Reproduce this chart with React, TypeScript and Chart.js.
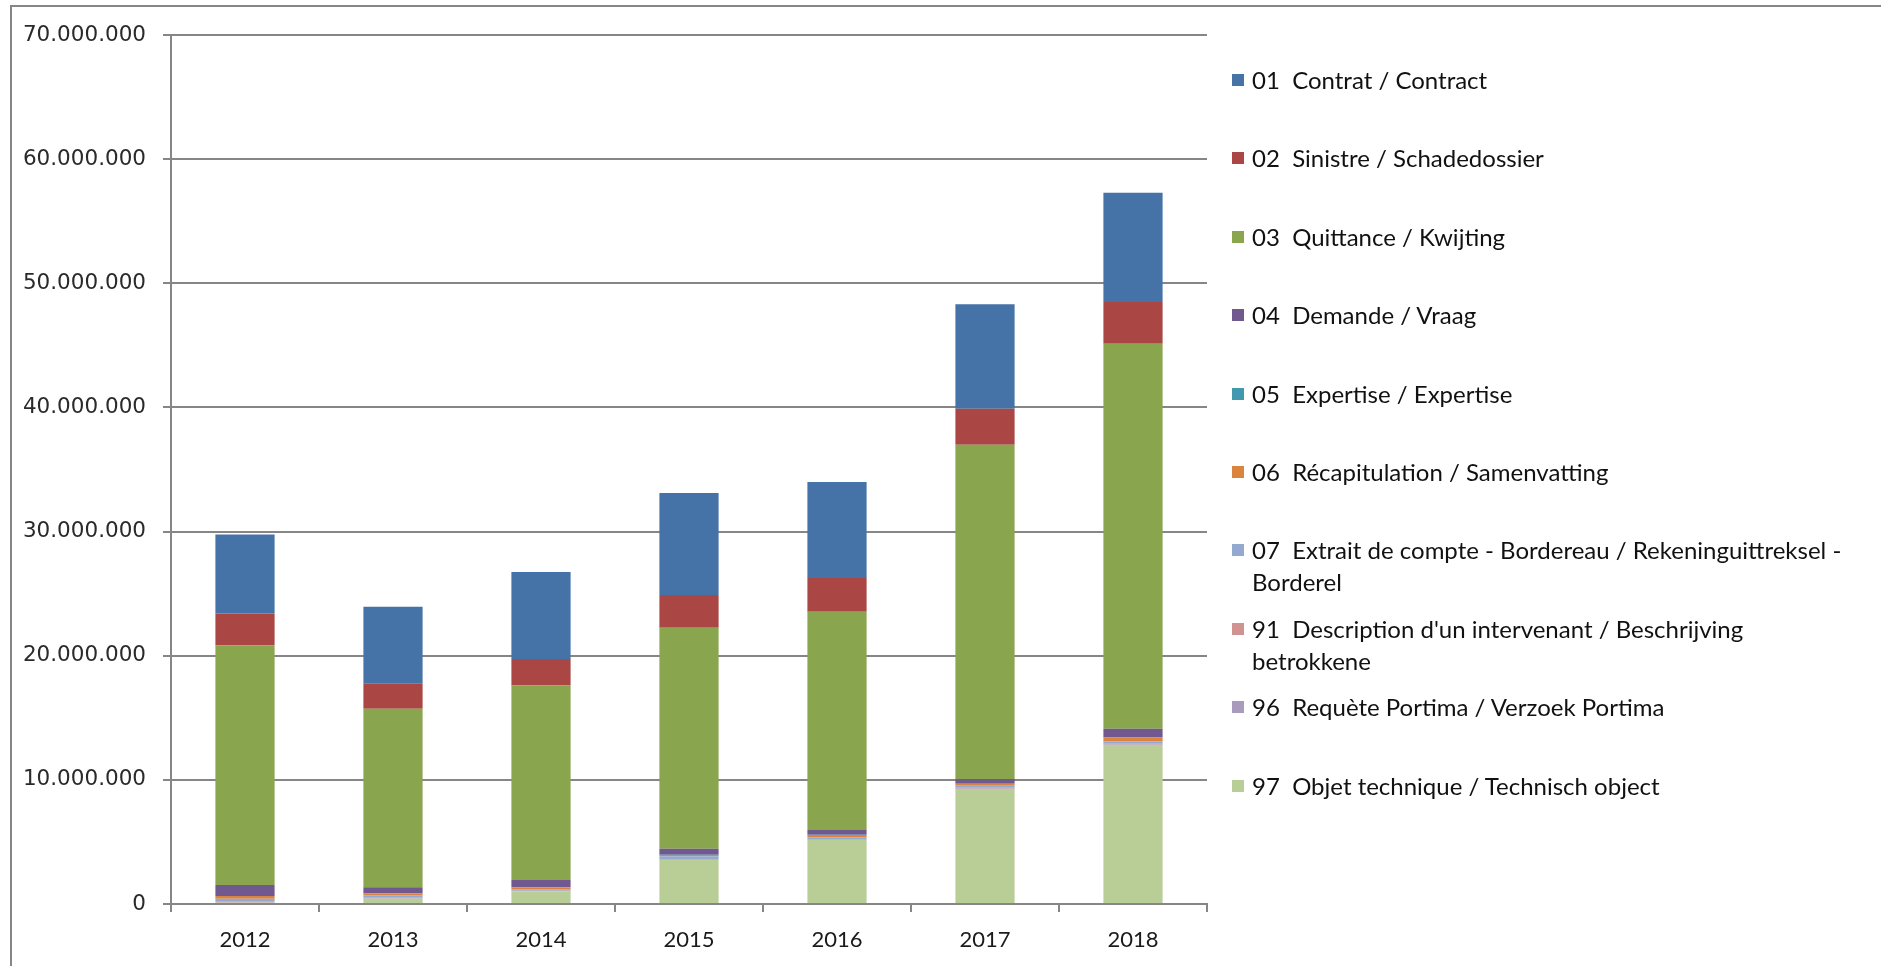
import React, { useEffect, useRef } from "react";
import { Chart, registerables } from "chart.js";

Chart.register(...registerables);

const years = ["2012", "2013", "2014", "2015", "2016", "2017", "2018"];

// values in millions
const s01Contrat = [6.36, 6.21, 7.01, 8.2, 7.74, 8.42, 8.8];
const s02Sinistre = [2.56, 2.01, 2.13, 2.64, 2.71, 2.9, 3.37];
const s03Quittance = [19.31, 14.38, 15.66, 17.8, 17.58, 26.94, 31.02];
const s04Demande = [0.89, 0.48, 0.58, 0.5, 0.4, 0.37, 0.69];
const s05Expertise = [0.01, 0.01, 0.01, 0.01, 0.01, 0.01, 0.01];
const s06Recap = [0.21, 0.16, 0.17, 0.11, 0.19, 0.16, 0.32];
const s07Extrait = [0.25, 0.2, 0.12, 0.21, 0.14, 0.16, 0.19];
const s91Description = [0.05, 0.04, 0.03, 0.04, 0.04, 0.05, 0.05];
const s96Requete = [0.03, 0.03, 0.03, 0.04, 0.03, 0.04, 0.05];
const s97Objet = [0.1, 0.43, 1.0, 3.55, 5.16, 9.27, 12.8];

const yTicks = [0, 10000000, 20000000, 30000000, 40000000, 50000000, 60000000, 70000000];

const legendLabels = [
  "01  Contrat / Contract",
  "02  Sinistre / Schadedossier",
  "03  Quittance / Kwijting",
  "04  Demande / Vraag",
  "05  Expertise / Expertise",
  "06  Récapitulation / Samenvatting",
  "07  Extrait de compte - Bordereau / Rekeninguittreksel -\nBorderel",
  "91  Description d'un intervenant / Beschrijving\nbetrokkene",
  "96  Requète Portima / Verzoek Portima",
  "97  Objet technique / Technisch object",
];

const legendColors = [
  "#4572A7",
  "#AA4643",
  "#89A54E",
  "#71588F",
  "#4198AF",
  "#DB843D",
  "#93A9CF",
  "#D19392",
  "#A99BBD",
  "#B9CD96",
];

// stacking order bottom -> top
const stackSeries = [
  { label: legendLabels[9], data: s97Objet, color: legendColors[9] },
  { label: legendLabels[8], data: s96Requete, color: legendColors[8] },
  { label: legendLabels[7], data: s91Description, color: legendColors[7] },
  { label: legendLabels[6], data: s07Extrait, color: legendColors[6] },
  { label: legendLabels[5], data: s06Recap, color: legendColors[5] },
  { label: legendLabels[4], data: s05Expertise, color: legendColors[4] },
  { label: legendLabels[3], data: s04Demande, color: legendColors[3] },
  { label: legendLabels[2], data: s03Quittance, color: legendColors[2] },
  { label: legendLabels[1], data: s02Sinistre, color: legendColors[1] },
  { label: legendLabels[0], data: s01Contrat, color: legendColors[0] },
];

const fmt = (v: number) => String(Math.round(v)).replace(/\B(?=(\d{3})+(?!\d))/g, ".");

const W = 1881;
const H = 966;
const AXIS_COLOR = "#868686";

export default function App() {
  const ref = useRef<HTMLCanvasElement | null>(null);

  useEffect(() => {
    document.body.style.margin = "0";
    const ctx = ref.current!.getContext("2d")!;
    const chart = new Chart(ctx, {
      type: "bar",
      data: {
        labels: years,
        datasets: stackSeries.map((s) => ({
          label: s.label,
          data: s.data.map((v) => v * 1000000),
          backgroundColor: s.color,
          borderWidth: 0,
          categoryPercentage: 1,
          barPercentage: 0.4,
        })),
      },
      options: {
        responsive: false,
        animation: false,
        layout: { padding: { left: 0, right: W - 1207, top: 35, bottom: 0 } },
        plugins: { legend: { display: false }, tooltip: { enabled: false } },
        scales: {
          x: {
            stacked: true,
            afterFit: (s: any) => {
              s.height = H - 904;
            },
            grid: {
              display: true,
              offset: true,
              drawOnChartArea: false,
              drawTicks: true,
              tickLength: 8,
              color: AXIS_COLOR,
              lineWidth: 2,
            },
            border: { display: true, color: AXIS_COLOR, width: 2 },
            ticks: {
              padding: 15,
              color: "#1a1a1a",
              font: { family: "Lato", size: 22 },
            },
          },
          y: {
            stacked: true,
            min: 0,
            max: 70000000,
            afterFit: (s: any) => {
              s.width = 171;
            },
            afterBuildTicks: (s: any) => {
              s.ticks = yTicks.map((v) => ({ value: v }));
            },
            grid: {
              color: AXIS_COLOR,
              lineWidth: 2,
              drawTicks: true,
              tickLength: 8,
            },
            border: { display: true, color: AXIS_COLOR, width: 2 },
            ticks: {
              padding: 17,
              color: "#2a2a2a",
              font: { family: "DejaVu Sans", size: 21.5 },
              callback: (v: any) => fmt(Number(v)),
            },
          },
        },
      },
    });
    return () => chart.destroy();
  }, []);

  return (
    <div
      style={{
        position: "fixed",
        left: 0,
        top: 0,
        width: W,
        height: H,
        background: "#fff",
        overflow: "hidden",
      }}
    >
      <div
        style={{
          position: "absolute",
          left: 10,
          top: 5,
          width: W + 100,
          height: H + 100,
          border: `2px solid ${AXIS_COLOR}`,
          boxSizing: "border-box",
        }}
      />
      <canvas ref={ref} width={W} height={H} style={{ position: "absolute", left: 0, top: 0 }} />
      <div
        style={{
          position: "absolute",
          left: 1232,
          top: 64,
          fontFamily: "Lato",
          fontSize: 24,
          color: "#111",
        }}
      >
        {legendLabels.map((lab, i) => (
          <div key={i} style={{ height: 78.4, display: "flex", alignItems: "flex-start" }}>
            <div
              style={{
                width: 12,
                height: 12,
                marginTop: 10,
                background: legendColors[i],
                flex: "0 0 auto",
              }}
            />
            <div style={{ marginLeft: 8, lineHeight: "32px", whiteSpace: "pre" }}>{lab}</div>
          </div>
        ))}
      </div>
    </div>
  );
}
